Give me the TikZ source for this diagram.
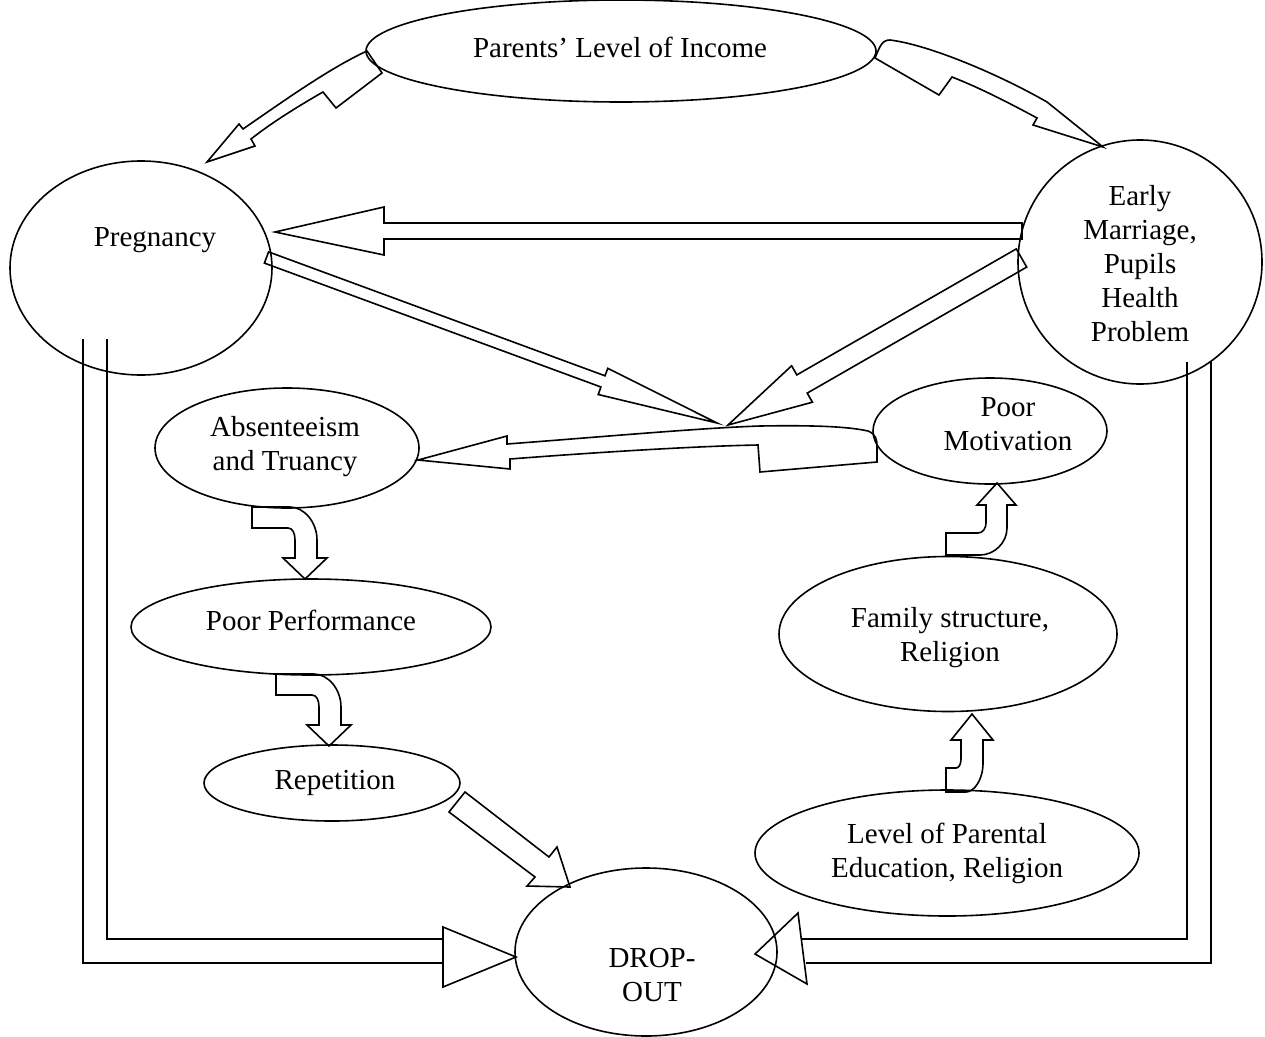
\documentclass[tikz,border=0pt]{standalone}
\usepackage{fontspec}
\setmainfont{Liberation Serif}
\usetikzlibrary{shapes.geometric}
\begin{document}
\begin{tikzpicture}[x=1pt,y=-1pt,
  ell/.style={draw, ellipse, line width=1.6pt, inner sep=0pt},
  lbl/.style={align=center, font=\fontsize{29}{34}\selectfont, inner sep=0pt},
  blk/.style={draw, line width=1.6pt, line join=miter, miter limit=20},
]
\useasboundingbox (0,0) rectangle (1265,1036);
% ellipses
\node[ell, minimum width=510pt, minimum height=102pt] (par) at (621,51) {};
\node[ell, minimum width=262pt, minimum height=214pt] (preg) at (141,268) {};
\node[ell, minimum width=244pt, minimum height=244pt] (em) at (1140,262) {};
\node[ell, minimum width=264pt, minimum height=120pt] (abs) at (287,448) {};
\node[ell, minimum width=360pt, minimum height=96pt] (perf) at (311,627) {};
\node[ell, minimum width=256pt, minimum height=76pt] (rep) at (332,783) {};
\node[ell, minimum width=262pt, minimum height=168pt] (drop) at (646,952) {};
\node[ell, minimum width=234pt, minimum height=106pt] (mot) at (990,431) {};
\node[ell, minimum width=338pt, minimum height=155pt] (fam) at (948,634) {};
\node[ell, minimum width=384pt, minimum height=126pt] (lev) at (947,853) {};
% labels
\node[lbl] (tpar) at (620,47) {Parents’ Level of Income};
\node[lbl] (tpreg) at (155,240) {Pregnancy};
\node[lbl] (tem) at (1140,264) {Early\\Marriage,\\Pupils\\Health\\Problem};
\node[lbl] (tabs) at (285,447) {Absenteeism\\and Truancy};
\node[lbl] (tperf) at (311,620) {Poor Performance};
\node[lbl] (trep) at (335,783) {Repetition};
\node[lbl] (tdrop) at (652,975) {DROP-\\OUT};
\node[lbl] (tmot) at (1008,424) {Poor\\Motivation};
\node[lbl] (tfam) at (950,638) {Family structure,\\Religion};
\node[lbl] (tlev) at (947,853) {Level of Parental\\Education, Religion};
% Parents -> Pregnancy
\draw[blk] (207,162) -- (239,124) -- (243,129) .. controls (285,100) and (330,68) .. (367,51)
  -- (382,73) -- (336,108) -- (323,92) .. controls (295,108) and (270,124) .. (251,139)
  -- (255,146) -- cycle;
% Parents -> Early marriage
\draw[blk] (875,58) .. controls (880,46) and (882,40) .. (890,40)
  .. controls (930,45) and (1000,75) .. (1047,102) -- (1103,147) -- (1033,125) -- (1037,118)
  .. controls (1000,98) and (975,86) .. (952,77) -- (939,95) -- cycle;
% Early marriage -> Pregnancy
\draw[blk] (275,232) -- (384,207) -- (384,223) -- (1022,223) -- (1022,239) -- (384,239) -- (384,255) -- cycle;
% Pregnancy -> centre
\draw[blk] (268.6,251.9) -- (605,375.8) -- (607.8,368.3) -- (717,423) -- (598.2,394.5) -- (600.9,387) -- (264.4,263.1) -- cycle;
% Early marriage -> centre
\draw[blk] (1016.3,248.9) -- (796.8,374.9) -- (791.6,365.8) -- (728,425) -- (812.4,402.2) -- (807.2,393.1) -- (1026.7,267.1) -- cycle;
% centre -> Absenteeism
\draw[blk] (418,460) -- (507,436) -- (507,444) .. controls (600,437) and (700,428) .. (760,426)
  .. controls (820,425) and (850,427) .. (868,431) .. controls (876,434) and (877,440) .. (877,446)
  -- (877,462) -- (760,472) -- (758,445) .. controls (700,446) and (600,452) .. (510,459)
  -- (510,469) -- cycle;
% Absenteeism -> Poor performance
\draw[blk, shift={(252,507)}] (0,0) -- (0,21) -- (36,21) .. controls (41,21) and (43,27) .. (43,33)
  -- (43,51) -- (31,51) -- (53,72) -- (75,51) -- (65,51) -- (65,33) .. controls (65,15) and (52,0) .. (38,0) -- cycle;
% Poor performance -> Repetition
\draw[blk, shift={(276,674)}] (0,0) -- (0,21) -- (36,21) .. controls (41,21) and (43,27) .. (43,33)
  -- (43,51) -- (31,51) -- (53,72) -- (75,51) -- (65,51) -- (65,33) .. controls (65,15) and (52,0) .. (38,0) -- cycle;
% Repetition -> Drop-out
\draw[blk] (465,792) -- (549,857) -- (557,847) -- (570,887) -- (527,886) -- (535,877) -- (449,812) -- cycle;
% Family -> Poor motivation
\draw[blk, shift={(946,555)}] (0,0) -- (0,-22) -- (32,-22) .. controls (37,-22) and (40,-27) .. (40,-32)
  -- (40,-50) -- (31,-50) -- (51,-72) -- (70,-50) -- (61,-50) -- (61,-27) .. controls (61,-12) and (48,0) .. (34,0) -- cycle;
% Level -> Family
\draw[blk, shift={(946,792)}] (0,0) -- (0,-24) -- (10,-24) .. controls (13,-24) and (15,-28) .. (15,-33)
  -- (15,-52) -- (5,-52) -- (26,-78) -- (47,-52) -- (37,-52) -- (37,-29) .. controls (37,-12) and (28,0) .. (20,0) -- cycle;
% Pregnancy -> Drop-out (L shape)
\draw[blk] (83,339) -- (83,963) -- (443,963);
\draw[blk] (107,339) -- (107,939) -- (443,939);
\draw[blk] (443,927) -- (516,957) -- (443,987) -- cycle;
% Early marriage -> Drop-out (L shape)
\draw[blk] (1211,362) -- (1211,963) -- (806,963);
\draw[blk] (1187,362) -- (1187,939) -- (801,939);
\draw[blk] (798,913) -- (755,954) -- (807,984) -- cycle;
\end{tikzpicture}
\end{document}
